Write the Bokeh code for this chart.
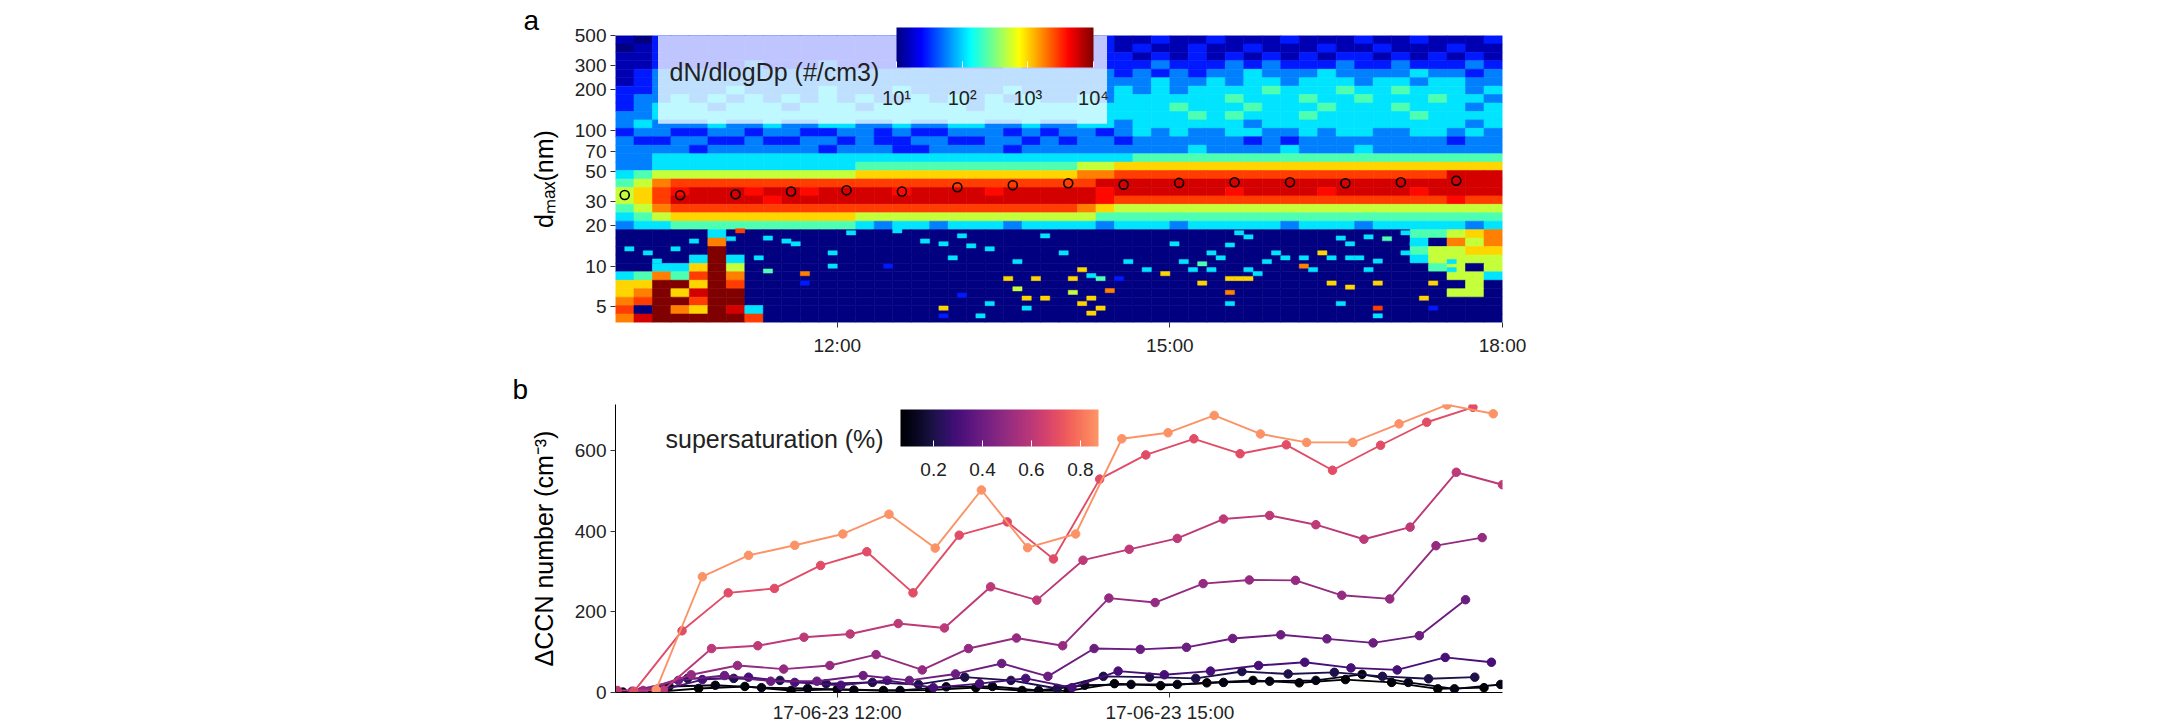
import numpy as np
import pandas as pd

from bokeh.embed import file_html
from bokeh.layouts import column
from bokeh.models import (BoxAnnotation, ColorBar, ColumnDataSource, CustomJSTickFormatter,
                          DatetimeTickFormatter, FixedTicker, Label, LinearColorMapper,
                          LogColorMapper, PrintfTickFormatter, Range1d)
from bokeh.palettes import Magma256
from bokeh.plotting import figure
from bokeh.resources import INLINE

FONT = "Liberation Sans"
INK = "#222222"

# ---------------- data ----------------
day = "2017-06-23"
t_start, t_end = "10:00", "18:00"
ticks_a = ["12:00", "15:00", "18:00"]
ticks_b = ["12:00", "15:00"]
dp_ticks = [5, 10, 20, 30, 50, 70, 100, 200, 300, 500]
ccn_ticks = [0, 200, 400, 600]
cb_a_ticks = [10, 100, 1000, 10000]
cb_b_ticks = [0.2, 0.4, 0.6, 0.8]

# panel a: size distribution.
# one string per size row (500 nm at top down to 3.84 nm), one char per 10 min
dp_top, dp_bottom = 500.0, 3.84
heat_step_min = 10
heat_rows = [
    "10222222" "22222222" "22222222" "22211211" "21112111" "21121112",
    "01222222" "22222222" "22222222" "22212112" "11211121" "12111211",
    "11222222" "22222222" "22222222" "22221212" "12121212" "21212121",
    "11222223" "22232222" "32222322" "22222322" "23232223" "22322232",
    "12333333" "33333333" "33333333" "33323232" "33433343" "33343323",
    "12333333" "33333333" "33333333" "33333433" "43443444" "34434433",
    "22333343" "33343334" "33333433" "33343434" "44454445" "44544434",
    "23343434" "34343433" "43434343" "34344444" "45444544" "54445443",
    "23444344" "43444344" "44434444" "44444454" "44544454" "44544434",
    "33444444" "44444444" "44444444" "44444445" "45444544" "44454444",
    "34333433" "43344334" "33443343" "34434444" "44344444" "44444434",
    "23322332" "33223323" "22333232" "33234343" "34433434" "43344343",
    "32233223" "22332322" "33223323" "23323333" "33232333" "33333233",
    "33332333" "33323332" "23333233" "33333334" "33334333" "43333333",
    "33444444" "44444444" "44444444" "44445555" "55555555" "55555555",
    "33444444" "44444555" "55555555" "56677777" "77777777" "77777777",
    "45666666" "66666777" "77777777" "78899999" "99999999" "99999RRR",
    "56899999" "99999999" "99999999" "99RRRRRR" "RRRRRRRR" "RRRRRRRR",
    "679SRRRS" "RRSRRRRS" "RRRRSRRR" "RRSRRRRR" "RSRRRRSR" "RRRSRRRR",
    "679RRRRR" "SRRRRRRR" "RRRRRRRR" "RRS99999" "99999999" "99999S99",
    "56899999" "99999999" "99999999" "98766666" "66666666" "66666666",
    "45677777" "77777666" "66666666" "66555555" "55555555" "55555555",
    "34455555" "55555434" "43444344" "44344434" "44443444" "34444434",
    "00000400" "00000000" "00000000" "00000000" "00000000" "00055678",
    "00000800" "00000000" "00000000" "00000000" "00000000" "00040868",
    "00000D00" "00000000" "00000000" "00000000" "00000000" "00056677",
    "00004D40" "00000000" "00000000" "00000000" "00000000" "00046666",
    "00447D60" "00000000" "00000000" "00000000" "00000000" "00005606",
    "45859D80" "00000000" "00000000" "00000000" "00000000" "00000664",
    "77DD7D90" "00000000" "00000000" "00000000" "00000000" "00000060",
    "78D7RDD0" "00000000" "00000000" "00000000" "00000000" "00000660",
    "89DD9DD0" "00000000" "00000000" "00000000" "00000000" "00000000",
    "90D87DR4" "00000000" "00000000" "00000000" "00000000" "00000000",
    "8RDDDDD9" "00000000" "00000000" "00000000" "00000000" "00000000",
]
# character -> log10(dN/dlogDp)
heat_codes = {"0": 0.5, "1": 1.15, "2": 1.45, "3": 1.75, "4": 2.05, "5": 2.35, "6": 2.7,
              "7": 3.0, "8": 3.25, "9": 3.45, "S": 3.6, "R": 3.75, "D": 4.2}

# isolated 5-min cells below the mode (minutes after 10:00, nm, level char)
spot_min = [5, 15, 20, 30, 40, 60, 65, 75, 80, 80,
            90, 95, 100, 100, 115, 115, 125, 145, 150, 165,
            175, 175, 175, 180, 185, 185, 190, 195, 200, 200,
            210, 215, 215, 220, 220, 225, 230, 230, 240, 245,
            245, 250, 250, 255, 255, 255, 260, 260, 265, 270,
            275, 285, 295, 300, 305, 310, 315, 315, 320, 320,
            325, 330, 330, 330, 330, 335, 335, 340, 340, 340,
            345, 350, 355, 360, 370, 370, 375, 380, 385, 385,
            390, 390, 395, 395, 395, 400, 405, 405, 410, 410,
            410, 410, 415, 425, 425, 430, 435, 440, 440, 450, 450]
spot_dp = [13.4, 12.5, 10.9, 13.4, 15.3, 15.9, 18.2, 11.5, 16.1, 9.2,
           15.3, 14.6, 8.8, 7.5, 12.5, 10.0, 17.6, 10.0, 18.2, 15.3,
           14.6, 4.9, 4.3, 11.5, 16.7, 6.1, 14.1, 4.3, 13.4, 5.3,
           8.1, 10.8, 6.8, 5.8, 4.9, 8.1, 16.7, 5.8, 12.5, 8.1,
           6.4, 9.4, 5.3, 8.5, 5.8, 4.5, 8.1, 4.9, 6.6, 8.1,
           10.8, 9.4, 8.8, 14.6, 10.8, 9.4, 10.4, 7.5, 12.5, 9.4,
           11.5, 14.3, 8.1, 6.4, 5.3, 17.6, 8.1, 16.4, 9.4, 8.1,
           8.8, 10.8, 12.5, 11.5, 11.5, 10.0, 9.4, 12.5, 11.5, 7.5,
           16.1, 5.3, 14.6, 11.5, 7.0, 11.5, 16.4, 9.4, 10.9, 7.5,
           4.9, 4.3, 15.9, 17.6, 12.5, 14.6, 5.8, 7.5, 4.9, 10.8, 9.4]
spot_lv = ("4444449445" "4482444244" "4724424444" "7467474747" "6774775782"
           "4474445744" "4478447447" "4444484747" "4444744447" "94544477244")

# mode diameter (open circles)
mode_time = ["10:05", "10:35", "11:05", "11:35", "12:05", "12:35", "13:05", "13:35",
             "14:05", "14:35", "15:05", "15:35", "16:05", "16:35", "17:05", "17:35"]
mode_dp = [33.4, 33.3, 33.8, 35.4, 36.2, 35.4, 38.1, 39.4,
           40.8, 39.8, 41.0, 41.5, 41.5, 40.8, 41.5, 42.6]

# panel b: delta CCN per supersaturation (minutes after 10:00, cm-3)
ss_low, ss_high = 0.065, 0.874
t_007 = [20, 45, 70, 95, 120, 145, 170, 195, 220, 245, 270, 295, 320, 345, 370, 395, 420, 445, 470]
n_007 = [1, 10, 15, 5, 8, 5, 6, 12, 5, 4, 22, 17, 24, 30, 24, 32, 25, 9, 12]
t_01 = [4, 29, 54, 79, 104, 129, 154, 179, 204, 229, 254, 279, 304, 329, 354, 379, 404, 429, 454, 479]
n_01 = [1, 15, 18, 12, 10, 6, 5, 14, 15, 5, 18, 20, 20, 25, 28, 30, 45, 25, 9, 20]
t_02 = [14, 39, 64, 89, 114, 139, 164, 189, 214, 239, 264, 289, 314, 339, 364, 389, 415, 440, 465]
n_02 = [2, 35, 35, 30, 22, 25, 20, 38, 30, 10, 40, 38, 35, 52, 46, 50, 40, 34, 38]
t_03 = [22, 47, 72, 97, 122, 147, 172, 197, 222, 247, 272, 297, 322, 348, 373, 398, 423, 449, 474]
n_03 = [2, 32, 38, 25, 18, 30, 12, 22, 35, 12, 53, 44, 53, 67, 75, 61, 56, 87, 75]
t_04 = [9, 34, 59, 84, 109, 134, 159, 184, 209, 234, 259, 284, 309, 334, 360, 385, 410, 435, 460]
n_04 = [3, 30, 42, 28, 28, 42, 30, 46, 72, 40, 109, 107, 112, 134, 143, 133, 123, 141, 230]
t_05 = [15, 41, 66, 91, 116, 141, 166, 191, 217, 242, 267, 292, 318, 343, 368, 393, 419, 444, 469]
n_05 = [5, 44, 67, 58, 67, 94, 56, 109, 135, 116, 234, 223, 270, 279, 278, 241, 232, 364, 384]
t_06 = [1, 26, 52, 77, 102, 127, 153, 178, 203, 228, 253, 278, 304, 329, 354, 379, 405, 430, 455, 480]
n_06 = [5, 6, 109, 116, 137, 145, 171, 160, 262, 229, 328, 355, 382, 430, 439, 416, 380, 410, 546, 515]
t_07 = [10, 36, 61, 86, 111, 136, 161, 186, 212, 237, 262, 287, 313, 338, 363, 388, 414, 439, 464]
n_07 = [3, 153, 247, 258, 315, 349, 247, 390, 423, 331, 529, 589, 629, 592, 614, 551, 613, 670, 707]
t_087 = [22, 47, 72, 97, 123, 148, 173, 198, 223, 249, 274, 299, 324, 349, 374, 399, 424, 450, 475]
n_087 = [7, 287, 340, 365, 393, 442, 358, 502, 359, 393, 629, 644, 687, 641, 620, 620, 666, 713, 691]

ss_levels = [0.07, 0.1, 0.2, 0.3, 0.4, 0.5, 0.6, 0.7, 0.87]
ss_times = [t_007, t_01, t_02, t_03, t_04, t_05, t_06, t_07, t_087]
ss_counts = [n_007, n_01, n_02, n_03, n_04, n_05, n_06, n_07, n_087]


# ---------------- helpers ----------------
def ms(clock):
    return pd.Timestamp(f"{day} {clock}").value // 10**6


T0 = ms(t_start)


def at_min(m):
    return T0 + m * 60000


def jet(n=256):
    out = []
    for i in range(n):
        f = i / (n - 1)
        rgb = [min(max(1.5 - abs(4 * f - k), 0.0), 1.0) for k in (3, 2, 1)]
        out.append("#%02x%02x%02x" % tuple(int(round(c * 255)) for c in rgb))
    return out


JET = jet()


def jet_color(lv):
    return JET[int(round(np.clip((lv - 1) / 3, 0, 1) * 255))]


MAGMA = list(Magma256[:200])


def ss_color(ss):
    f = (ss - ss_low) / (ss_high - ss_low)
    return MAGMA[int(round(np.clip(f, 0, 1) * (len(MAGMA) - 1)))]


def style(p, axis_line):
    for ax in (p.xaxis[0], p.yaxis[0]):
        ax.major_label_text_font = FONT
        ax.major_label_text_font_size = "19px"
        ax.major_label_text_color = INK
        ax.axis_label_text_font = FONT
        ax.axis_label_text_font_size = "25px"
        ax.axis_label_text_font_style = "normal"
        ax.axis_label_text_color = "black"
        ax.major_tick_in = 0
        ax.major_tick_out = 5
        ax.major_tick_line_color = "#333333"
        ax.minor_tick_line_color = None
        ax.axis_line_color = "black" if axis_line else None
    p.yaxis[0].major_label_standoff = 4
    p.yaxis[0].axis_label_standoff = 14
    p.xgrid.grid_line_color = None
    p.ygrid.grid_line_color = None
    p.outline_line_color = None


def panel_letter(p, text, offset):
    p.title.text = text
    p.title.align = "left"
    p.title.offset = offset
    p.title.standoff = 0
    p.title.text_font = FONT
    p.title.text_font_size = "28px"
    p.title.text_font_style = "normal"
    p.title.text_color = "black"


# ---------------- panel a ----------------
edges = np.logspace(np.log10(dp_top), np.log10(dp_bottom), len(heat_rows) + 1)
cells = dict(left=[], right=[], top=[], bottom=[], color=[])
for i, row in enumerate(heat_rows):
    for j, ch in enumerate(row):
        cells["left"].append(at_min(heat_step_min * j))
        cells["right"].append(at_min(heat_step_min * (j + 1)))
        cells["top"].append(edges[i])
        cells["bottom"].append(edges[i + 1])
        cells["color"].append(jet_color(heat_codes[ch]))

half_bin = 10 ** (1 / 64)
spots = dict(left=[at_min(m) for m in spot_min],
             right=[at_min(m + 5) for m in spot_min],
             top=[d * half_bin for d in spot_dp],
             bottom=[d / half_bin for d in spot_dp],
             color=[jet_color(heat_codes[c]) for c in spot_lv])

FH_A = 287
pa = figure(x_axis_type="datetime", y_axis_type="log",
            x_range=Range1d(T0, ms(t_end)), y_range=Range1d(dp_bottom, dp_top),
            frame_width=887, frame_height=FH_A,
            min_border_left=615, min_border_right=80, min_border_top=35, min_border_bottom=49,
            output_backend="svg", toolbar_location=None)
pa.quad(source=ColumnDataSource(cells), left="left", right="right", top="top", bottom="bottom",
        fill_color="color", line_color="color", line_width=0.6)
pa.quad(source=ColumnDataSource(spots), left="left", right="right", top="top", bottom="bottom",
        fill_color="color", line_color="color", line_width=0.5)
pa.scatter(x=[ms(t) for t in mode_time], y=mode_dp, marker="circle", size=9,
           fill_color=None, line_color="black", line_width=1.6)

style(pa, axis_line=False)
pa.xaxis[0].ticker = FixedTicker(ticks=[ms(t) for t in ticks_a])
pa.xaxis[0].formatter = DatetimeTickFormatter(hours="%H:%M", hourmin="%H:%M", minutes="%H:%M")
pa.xaxis[0].major_label_standoff = 7
pa.yaxis[0].ticker = FixedTicker(ticks=dp_ticks)
pa.yaxis[0].formatter = PrintfTickFormatter(format="%d")
pa.yaxis[0].axis_label = "d\u2098\u2090\u2093(nm)"

pa.add_layout(BoxAnnotation(left=at_min(23), right=at_min(266), bottom=112,
                            fill_color="white", fill_alpha=0.75, line_color=None))
cb_a = ColorBar(color_mapper=LogColorMapper(palette=JET, low=cb_a_ticks[0], high=cb_a_ticks[-1]),
                orientation="horizontal", location=(281, 211), width=197, height=40,
                padding=0, margin=0, title=None,
                ticker=FixedTicker(ticks=cb_a_ticks),
                formatter=CustomJSTickFormatter(
                    code="return '10' + ['\u2070','\u00b9','\u00b2','\u00b3','\u2074'][Math.round(Math.log10(tick))];"),
                major_label_text_font=FONT, major_label_text_font_size="20px",
                major_label_text_color=INK, label_standoff=19,
                major_tick_in=6, major_tick_out=0, major_tick_line_color="white",
                bar_line_color=None, border_line_color=None, background_fill_alpha=0)
pa.add_layout(cb_a)
pa.add_layout(Label(x=54, y=FH_A - 36, x_units="screen", y_units="screen",
                    text="dN/dlogDp (#/cm3)", text_font=FONT, text_font_size="25px",
                    text_color=INK, text_baseline="middle"))
panel_letter(pa, "a", -92)

# ---------------- panel b ----------------
FH_B = 288
pb = figure(x_axis_type="datetime",
            x_range=Range1d(T0, ms(t_end)), y_range=Range1d(0, 714),
            frame_width=887, frame_height=FH_B,
            min_border_left=615, min_border_right=80, min_border_top=32, min_border_bottom=31,
            output_backend="svg", toolbar_location=None)
for ss, tt, nn in zip(ss_levels, ss_times, ss_counts):
    c = ss_color(ss)
    xs = [at_min(m) for m in tt]
    pb.line(xs, nn, line_color=c, line_width=1.9)
    pb.scatter(xs, nn, marker="circle", size=8.5, fill_color=c, line_color=c)

style(pb, axis_line=True)
pb.xaxis[0].ticker = FixedTicker(ticks=[ms(t) for t in ticks_b])
pb.xaxis[0].formatter = DatetimeTickFormatter(hours="%y-%m-%d %H:%M", hourmin="%y-%m-%d %H:%M",
                                              minutes="%y-%m-%d %H:%M")
pb.xaxis[0].major_label_standoff = 4
pb.yaxis[0].ticker = FixedTicker(ticks=ccn_ticks)
pb.yaxis[0].axis_label = "\u0394CCN number (cm\u207b\u00b3)"

cb_b = ColorBar(color_mapper=LinearColorMapper(palette=MAGMA, low=ss_low, high=ss_high),
                orientation="horizontal", location=(285, 214), width=198, height=37,
                padding=0, margin=0, title=None,
                ticker=FixedTicker(ticks=cb_b_ticks),
                formatter=PrintfTickFormatter(format="%.1f"),
                major_label_text_font=FONT, major_label_text_font_size="19px",
                major_label_text_color=INK, label_standoff=16,
                major_tick_in=6, major_tick_out=0, major_tick_line_color="white",
                bar_line_color=None, border_line_color=None, background_fill_alpha=0)
pb.add_layout(cb_b)
pb.add_layout(Label(x=50, y=FH_B - 34, x_units="screen", y_units="screen",
                    text="supersaturation (%)", text_font=FONT, text_font_size="25px",
                    text_color=INK, text_baseline="middle"))
panel_letter(pb, "b", -103)

layout = column(pa, pb, spacing=0)
open("out.html", "w", encoding="utf-8").write(file_html(layout, INLINE))
